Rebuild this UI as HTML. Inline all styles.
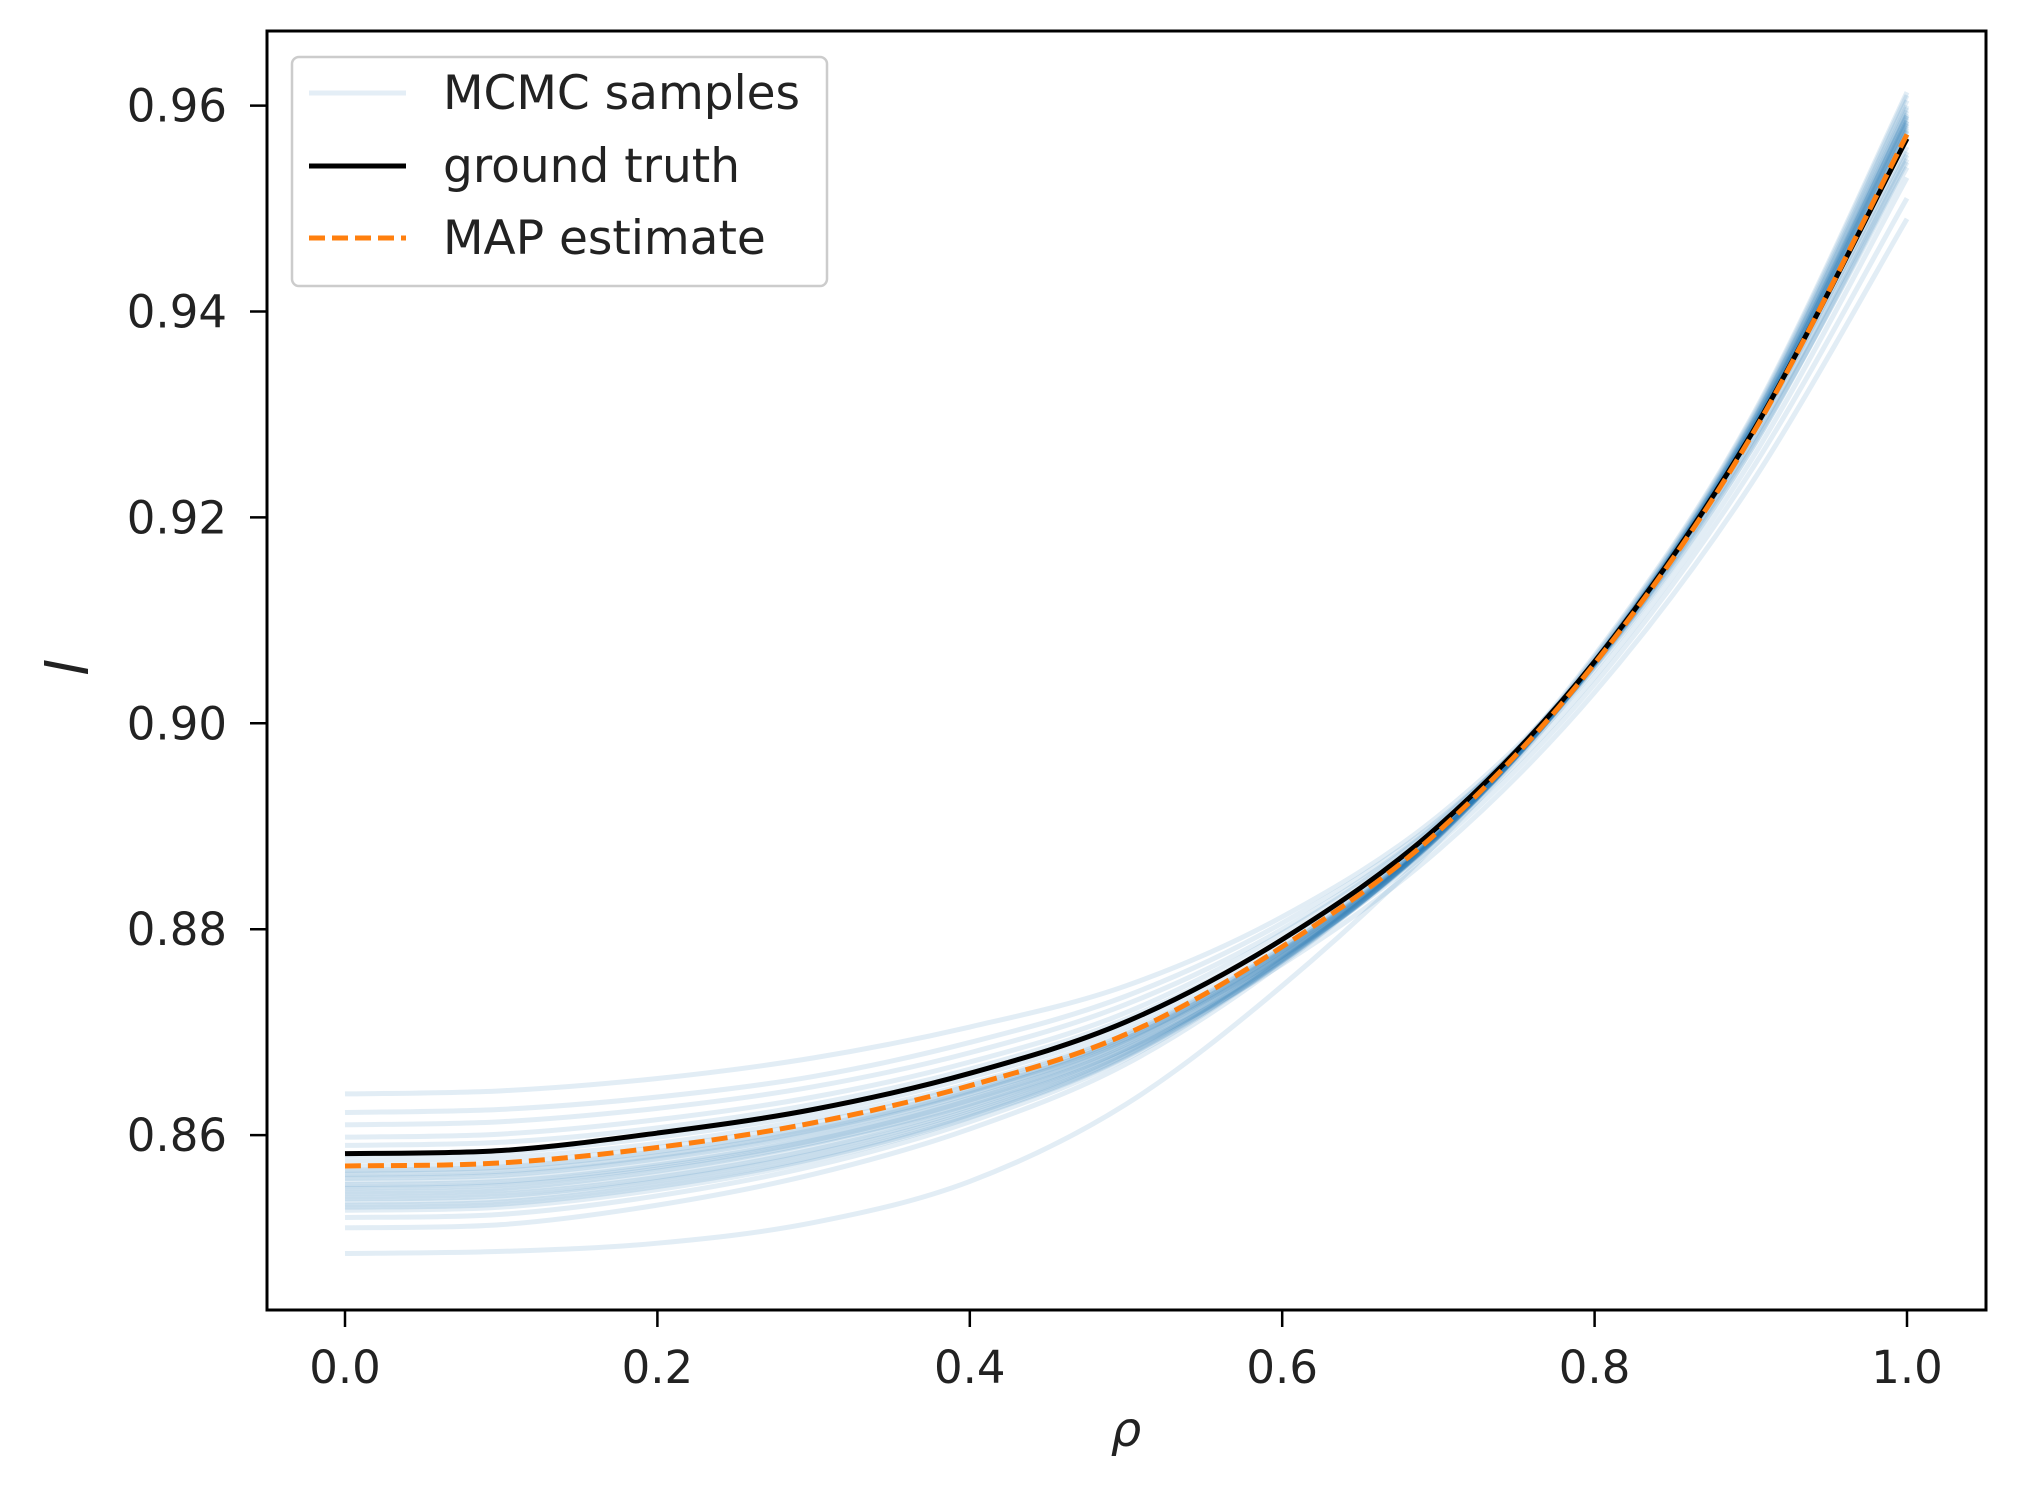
<!DOCTYPE html>
<html><head><meta charset="utf-8"><style>
html,body{margin:0;padding:0;background:#fff;}
svg{display:block;font-family:"DejaVu Sans","Liberation Sans",sans-serif;}
</style></head><body>
<svg id="chart" width="2020" height="1492" viewBox="0 0 2020 1492">
<g id="samples"></g>
<g id="main"></g>
<g id="axes"></g>
<g id="legend">
<rect x="292" y="57" width="535" height="229" rx="7" fill="#fff" fill-opacity="0.8" stroke="#cccccc" stroke-width="2.5"/>
<line x1="309" y1="93" x2="406" y2="93" stroke="#1f77b4" stroke-opacity="0.12" stroke-width="5"/>
<text x="443" y="109" font-size="47" fill="#222">MCMC samples</text>
<line x1="309" y1="166" x2="406" y2="166" stroke="#000" stroke-width="5"/>
<text x="443" y="182" font-size="47" fill="#222">ground truth</text>
<line x1="309" y1="238" x2="406" y2="238" stroke="#ff7f0e" stroke-width="5" stroke-dasharray="16,7"/>
<text x="443" y="254" font-size="47" fill="#222">MAP estimate</text>
</g>
</svg>
<script>
const rho=[0,0.1,0.2,0.3,0.4,0.5,0.6,0.7,0.8,0.9,1.0];
const groundTruth=[0.8582,0.8585,0.8602,0.8625,0.8660,0.8710,0.8790,0.8900,0.9060,0.9280,0.9568];
const mapEstimate=[0.8570,0.8573,0.8588,0.8612,0.8648,0.8698,0.8783,0.8895,0.9058,0.9278,0.9572];
const samples=[
[0.8485,0.8487,0.8495,0.8515,0.8555,0.8630,0.8745,0.8885,0.9055,0.9275,0.9555],
[0.8640,0.8643,0.8655,0.8675,0.8705,0.8745,0.8812,0.8910,0.9058,0.9268,0.9540],
[0.8622,0.8625,0.8637,0.8657,0.8690,0.8735,0.8806,0.8906,0.9055,0.9265,0.9545],
[0.8610,0.8613,0.8626,0.8647,0.8680,0.8727,0.8800,0.8904,0.9058,0.9272,0.9552],
[0.8598,0.8601,0.8615,0.8637,0.8671,0.8719,0.8796,0.8903,0.9060,0.9278,0.9560],
[0.8570,0.8573,0.8588,0.8612,0.8648,0.8698,0.8782,0.8894,0.9058,0.9280,0.9575],
[0.8562,0.8565,0.8580,0.8605,0.8642,0.8694,0.8779,0.8893,0.9057,0.9280,0.9578],
[0.8555,0.8558,0.8573,0.8598,0.8636,0.8690,0.8777,0.8892,0.9058,0.9282,0.9582],
[0.8548,0.8551,0.8567,0.8593,0.8631,0.8686,0.8774,0.8891,0.9058,0.9284,0.9585],
[0.8540,0.8543,0.8559,0.8586,0.8626,0.8682,0.8772,0.8890,0.9058,0.9285,0.9590],
[0.8535,0.8538,0.8555,0.8582,0.8622,0.8680,0.8771,0.8891,0.9060,0.9288,0.9595],
[0.8530,0.8533,0.8550,0.8577,0.8618,0.8677,0.8769,0.8890,0.9061,0.9290,0.9600],
[0.8527,0.8530,0.8547,0.8575,0.8617,0.8676,0.8770,0.8892,0.9063,0.9292,0.9605],
[0.8520,0.8523,0.8541,0.8570,0.8613,0.8674,0.8769,0.8892,0.9064,0.9294,0.9610],
[0.8510,0.8513,0.8532,0.8562,0.8606,0.8669,0.8767,0.8893,0.9066,0.9296,0.9613],
[0.8575,0.8578,0.8592,0.8616,0.8650,0.8700,0.8780,0.8890,0.9045,0.9255,0.9530],
[0.8565,0.8568,0.8583,0.8607,0.8643,0.8694,0.8774,0.8884,0.9038,0.9245,0.9510],
[0.8545,0.8548,0.8565,0.8592,0.8630,0.8684,0.8766,0.8877,0.9030,0.9232,0.9490],
[0.8590,0.8593,0.8607,0.8630,0.8664,0.8713,0.8790,0.8897,0.9052,0.9265,0.9548],
[0.8558,0.8561,0.8577,0.8602,0.8640,0.8692,0.8778,0.8893,0.9059,0.9283,0.9583],
[0.8552,0.8555,0.8571,0.8597,0.8635,0.8689,0.8776,0.8892,0.9059,0.9283,0.9585],
[0.8538,0.8541,0.8557,0.8584,0.8624,0.8681,0.8771,0.8890,0.9059,0.9287,0.9592],
[0.8580,0.8583,0.8598,0.8621,0.8656,0.8705,0.8786,0.8897,0.9059,0.9280,0.9570],
[0.8532,0.8535,0.8552,0.8579,0.8620,0.8678,0.8770,0.8891,0.9060,0.9289,0.9598],
[0.8560,0.8563,0.8578,0.8603,0.8640,0.8693,0.8779,0.8894,0.9060,0.9284,0.9580],
[0.8550,0.8553,0.8569,0.8595,0.8634,0.8688,0.8775,0.8891,0.9059,0.9285,0.9588],
[0.8543,0.8546,0.8562,0.8589,0.8628,0.8684,0.8773,0.8891,0.9059,0.9286,0.9590],
[0.8566,0.8569,0.8584,0.8608,0.8645,0.8696,0.8781,0.8894,0.9058,0.9281,0.9576]
];
const xTicks=[0,0.2,0.4,0.6,0.8,1.0];
const xTickLabels=["0.0","0.2","0.4","0.6","0.8","1.0"];
const yTicks=[0.86,0.88,0.90,0.92,0.94,0.96];
const yTickLabels=["0.86","0.88","0.90","0.92","0.94","0.96"];

const L=267,R=1986,T=31,B=1310;
function xs(v){return 345+(v-0)*(1907-345);}
function ys(v){return 105.6+(0.96-v)/0.02*205.9;}
const NS="http://www.w3.org/2000/svg";
function mk(tag,attrs,parent){const e=document.createElementNS(NS,tag);for(const k in attrs)e.setAttribute(k,attrs[k]);parent.appendChild(e);return e;}
function pathFor(vals){
  const p=rho.map((r,i)=>[xs(r),ys(vals[i])]);
  let d="M"+p[0][0]+","+p[0][1];
  for(let i=0;i<p.length-1;i++){
    const p0=p[Math.max(0,i-1)],p1=p[i],p2=p[i+1],p3=p[Math.min(p.length-1,i+2)];
    const c1x=p1[0]+(p2[0]-p0[0])/6,c1y=p1[1]+(p2[1]-p0[1])/6;
    const c2x=p2[0]-(p3[0]-p1[0])/6,c2y=p2[1]-(p3[1]-p1[1])/6;
    d+=" C"+c1x+","+c1y+" "+c2x+","+c2y+" "+p2[0]+","+p2[1];
  }
  return d;
}
const sg=document.getElementById('samples');
samples.forEach((s,i)=>{
  const e=mk('path',{d:pathFor(s),fill:'none',stroke:'#1f77b4','stroke-opacity':0.13,'stroke-width':5},sg);
  
  
});
const mg=document.getElementById('main');
const gt=mk('path',{d:pathFor(groundTruth),fill:'none',stroke:'#000','stroke-width':5},mg);


const mp=mk('path',{d:pathFor(mapEstimate),fill:'none',stroke:'#ff7f0e','stroke-width':5,'stroke-dasharray':'16,7'},mg);



const ag=document.getElementById('axes');
const frame=mk('rect',{x:L,y:T,width:R-L,height:B-T,fill:'none',stroke:'#000','stroke-width':3},ag);


xTicks.forEach((v,i)=>{
  const x=xs(v);
  const t=mk('line',{x1:x,y1:B,x2:x,y2:B+17,stroke:'#000','stroke-width':2.5},ag);
  
  
  const lb=mk('text',{x:x,y:1383,'font-size':45,'text-anchor':'middle',fill:'#222'},ag);
  lb.textContent=xTickLabels[i];
  
  
});
yTicks.forEach((v,i)=>{
  const y=ys(v);
  const t=mk('line',{x1:L-17,y1:y,x2:L,y2:y,stroke:'#000','stroke-width':2.5},ag);
  
  
  const lb=mk('text',{x:227,y:y+16,'font-size':45,'text-anchor':'end',fill:'#222'},ag);
  lb.textContent=yTickLabels[i];
  
  
});
const xl=mk('text',{x:1126,y:1446,'font-size':48,'font-style':'italic','text-anchor':'middle',fill:'#222'},ag);
xl.textContent='ρ';


const yl=mk('text',{x:0,y:0,'font-size':58,'font-style':'italic','text-anchor':'middle',fill:'#222',transform:'translate(88,668) rotate(-90)'},ag);
yl.textContent='l';


</script>
</body></html>
